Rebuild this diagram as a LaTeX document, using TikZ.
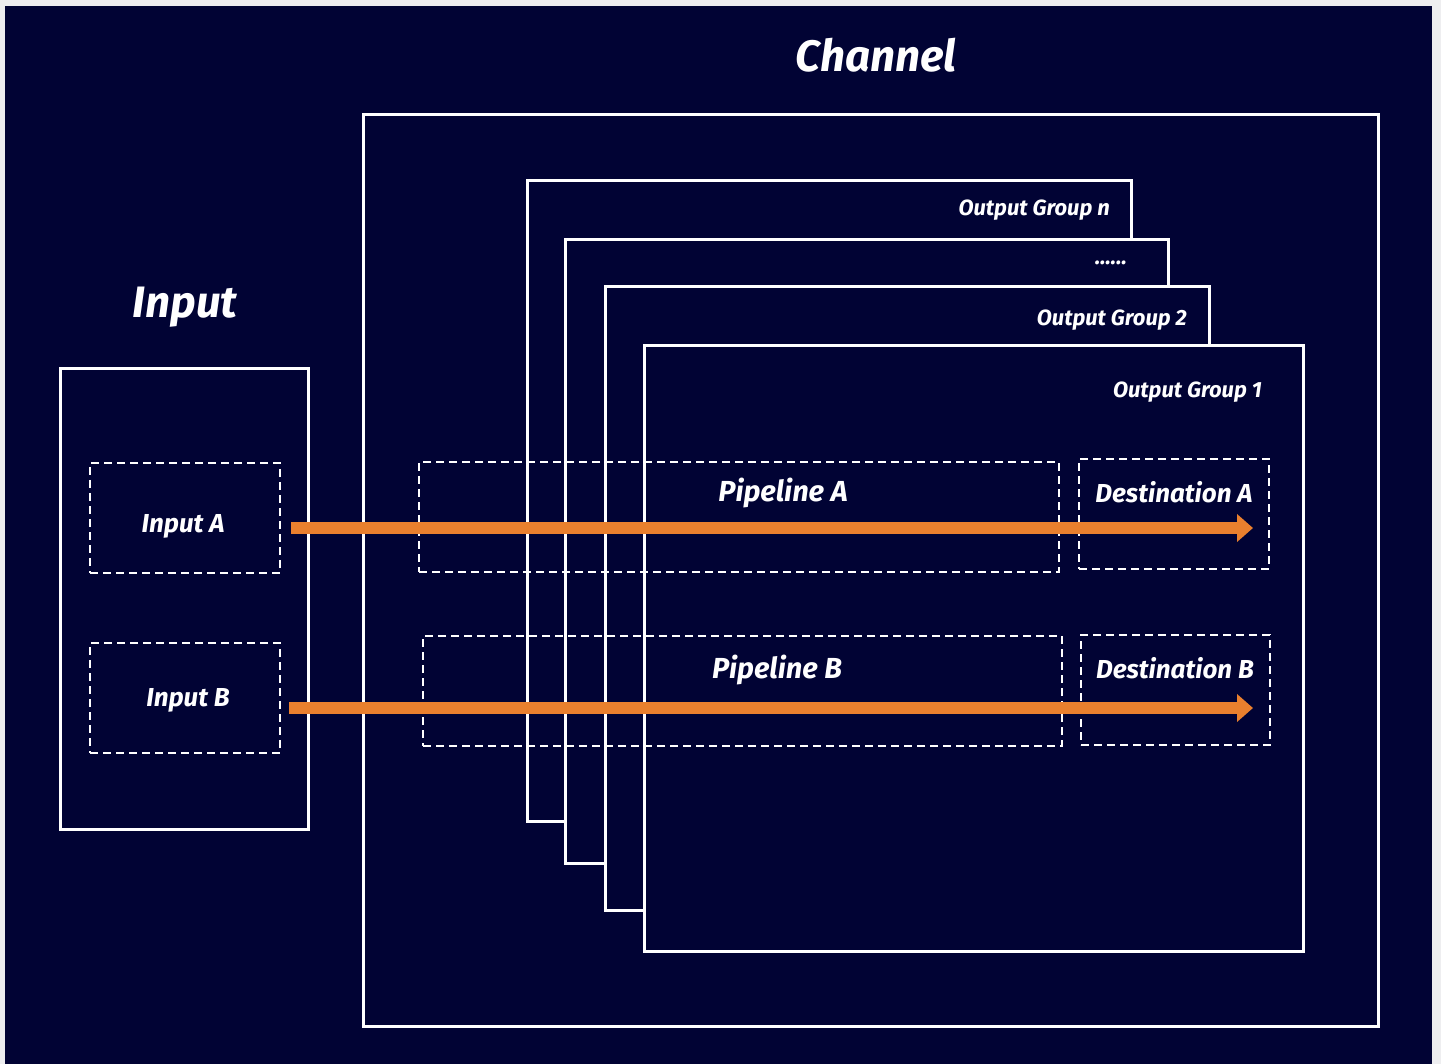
\documentclass[tikz,border=0pt]{standalone}
\usepackage{fontspec}
\setmainfont{Fira Sans}
\usetikzlibrary{arrows.meta}
\definecolor{navy}{RGB}{1,3,52}
\definecolor{paper}{RGB}{238,238,240}
\definecolor{flow}{RGB}{234,128,46}
\tikzset{
  frame/.style={draw=white, line width=3pt, fill=navy, inner sep=0pt},
  dashbox/.style={draw=white, line width=2pt, dash pattern=on 8pt off 5pt, inner sep=0pt},
  boxtext/.style={text=white, font=\fontsize{26}{29}\selectfont\bfseries\itshape},
  pipetext/.style={boxtext, font=\fontsize{29}{32}\selectfont\bfseries\itshape},
  grouptext/.style={text=white, font=\fontsize{22}{25}\selectfont\bfseries\itshape, anchor=base east, inner sep=0pt},
  titletext/.style={text=white, font=\fontsize{44}{50}\selectfont\bfseries\itshape},
  flowline/.style={draw=flow, line width=12pt, -{Triangle[length=16pt,width=27pt]}}
}
\begin{document}
\begin{tikzpicture}[x=1pt,y=-1pt]
\useasboundingbox [fill=paper] (0,0) rectangle (1441,1064);
\fill [navy] (5,6) rectangle (1432,1064);
% titles
\node [titletext] (chantitle) at (876,55) {Channel};
\node [titletext] (intitle) at (185,307) {Input};
% input side
\node [frame, minimum width=248pt, minimum height=460pt] (input) at (184,599) {};
\node [dashbox, minimum width=190pt, minimum height=110pt] (inA) at (185,518) {};
\node [boxtext] (inAlbl) at (183,526) {Input A};
\node [dashbox, minimum width=190pt, minimum height=110pt] (inB) at (185,698) {};
\node [boxtext] (inBlbl) at (188,700) {Input B};
% channel with stacked output groups
\node [frame, minimum width=1015pt, minimum height=911pt] (channel) at (870.5,570.5) {};
\node [frame, minimum width=604pt, minimum height=640pt] (groupn) at (829,501) {};
\node [grouptext] (groupnlbl) at (1110,216) {Output Group n};
\node [frame, minimum width=603pt, minimum height=623pt] (groupdots) at (866.5,551.5) {};
\node [grouptext] (groupdotslbl) at (1127,265) {......};
\node [frame, minimum width=604pt, minimum height=623pt] (group2) at (907,598.5) {};
\node [grouptext] (group2lbl) at (1187,326) {Output Group 2};
\node [frame, minimum width=659pt, minimum height=605pt] (group1) at (973.5,648.5) {};
\node [grouptext] (group1lbl) at (1262,398) {Output Group 1};
% pipelines and destinations
\node [dashbox, minimum width=640pt, minimum height=110pt] (pipeA) at (739,517) {};
\node [pipetext] (pipeAlbl) at (783,493) {Pipeline A};
\node [dashbox, minimum width=190pt, minimum height=110pt] (destA) at (1174,514) {};
\node [boxtext] (destAlbl) at (1174,492) {Destination A};
\node [dashbox, minimum width=639pt, minimum height=110pt] (pipeB) at (742.5,691) {};
\node [pipetext] (pipeBlbl) at (777,670) {Pipeline B};
\node [dashbox, minimum width=189pt, minimum height=110pt] (destB) at (1175.5,690) {};
\node [boxtext] (destBlbl) at (1175,668) {Destination B};
% flows
\coordinate (startA) at ([shift={(10pt,-10pt)}]inA.east);
\coordinate (startB) at ([shift={(8pt,-10pt)}]inB.east);
\draw [flowline, shorten >=17pt] (startA) -- (startA -| destA.east);
\draw [flowline, shorten >=18pt] (startB) -- (startB -| destB.east);
\end{tikzpicture}
\end{document}
